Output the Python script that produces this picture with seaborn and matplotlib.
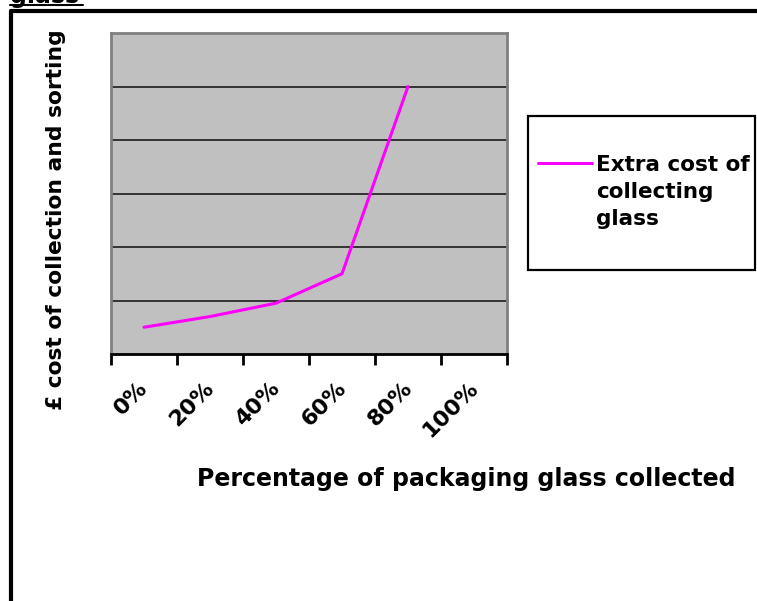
import matplotlib.pyplot as plt
import matplotlib.transforms as mtransforms
from matplotlib.offsetbox import HPacker
from matplotlib.patches import Rectangle
from matplotlib.lines import Line2D
import numpy as np
import pandas as pd
import seaborn as sns

# categories on the x axis, and the cost (no value at 100%)
categories = ["0%", "20%", "40%", "60%", "80%", "100%"]
extra_cost = [0.5, 0.7, 0.95, 1.5, 5.0]
series_name = "Extra cost of\ncollecting\nglass"

sns.set_theme(style="white")
plt.rcParams["font.family"] = ["DejaVu Sans"]
plt.rcParams["font.weight"] = "bold"
plt.rcParams["text.color"] = "black"
plt.rcParams["xtick.color"] = "black"
plt.rcParams["ytick.color"] = "black"

W, H = 757, 601
df = pd.DataFrame({"pos": np.arange(len(extra_cost)), "cost": extra_cost})

fig = plt.figure(figsize=(W / 100, H / 100), dpi=100)
ax = fig.add_axes([111 / W, 1 - 354 / H, (507 - 111) / W, (354 - 33) / H])
ax.set_facecolor("#c0c0c0")

sns.lineplot(df, x="pos", y="cost", color="#ff00ff", linewidth=2.2,
             ax=ax, label=series_name, legend=False)

ax.set_xlim(-0.5, len(categories) - 0.5)
ax.set_ylim(0, 6)

# ticks between categories, labels at the category centres
ax.set_xticks(np.arange(-0.5, len(categories), 1))
ax.set_xticklabels([])
ax.set_xticks(np.arange(len(categories)), minor=True)
ax.set_xticklabels(categories, minor=True, rotation=45, ha="right",
                   va="center", rotation_mode="anchor", fontsize=16,
                   fontweight="bold")
ax.tick_params(axis="x", which="major", length=8, width=2, color="black",
               direction="out", bottom=True)
ax.tick_params(axis="x", which="minor", length=0, pad=22)
shift = mtransforms.ScaledTranslation(1 / 100, 0, fig.dpi_scale_trans)
for lab in ax.get_xticklabels(minor=True):
    lab.set_transform(lab.get_transform() + shift)

ax.set_yticks(np.arange(1, 6))
ax.set_yticklabels([])
ax.tick_params(axis="y", length=0)
ax.yaxis.grid(True, color="#333333", linewidth=1.4)
ax.xaxis.grid(False)

for side in ["left", "top", "right"]:
    ax.spines[side].set_color("#808080")
    ax.spines[side].set_linewidth(2)
ax.spines["bottom"].set_color("black")
ax.spines["bottom"].set_linewidth(2)

ax.set_xlabel("")
ax.set_ylabel("")
fig.text(466 / W, 1 - 479 / H, "Percentage of packaging glass collected",
         ha="center", va="center", fontsize=17, fontweight="bold")
fig.text(56 / W, 1 - 220 / H, "£ cost of collection and sorting",
         ha="center", va="center", rotation=90, fontsize=15.7, fontweight="bold")

# legend box
fig.patches.append(Rectangle((528 / W, 1 - 270 / H), (755 - 528) / W, (270 - 116) / H,
                             transform=fig.transFigure, fill=False,
                             edgecolor="black", linewidth=1.6))
leg = ax.legend(loc="upper left", bbox_to_anchor=(538 / W, 1 - 155 / H),
                bbox_transform=fig.transFigure, frameon=False, fontsize=15.5,
                handlelength=2.5, handletextpad=0.2, borderaxespad=0,
                borderpad=0)
for t in leg.get_texts():
    t.set_linespacing(1.45)
    t.set_fontweight("bold")
for hp in leg.findobj(HPacker):
    hp.align = "top"

# outer frame and the clipped heading above it
fig.add_artist(Line2D([11 / W, 1], [1 - 11 / H, 1 - 11 / H], color="black",
                      linewidth=3, transform=fig.transFigure))
fig.add_artist(Line2D([11 / W, 11 / W], [0, 1 - 11 / H], color="black",
                      linewidth=3, transform=fig.transFigure))
fig.text(10 / W, 1 - 3 / H, "glass", ha="left", va="baseline", fontsize=17,
         fontweight="bold")
fig.add_artist(Line2D([10 / W, 83 / W], [1 - 5 / H, 1 - 5 / H], color="black",
                      linewidth=1.5, transform=fig.transFigure))

fig.savefig("out.png", dpi=100)
